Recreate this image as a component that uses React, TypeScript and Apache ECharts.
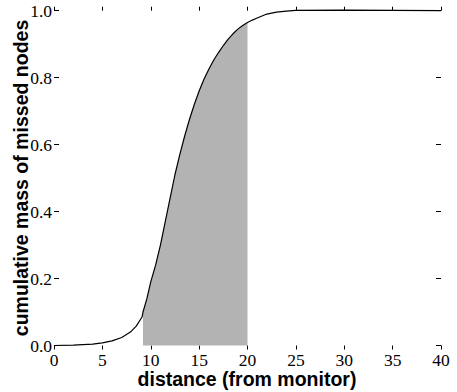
import React, { useEffect, useRef } from "react";
import * as echarts from "echarts";

const distance = [0, 2, 4, 5, 6, 7, 7.9, 8.5, 9.1, 9.2, 9.6, 10, 10.5, 11, 11.5, 12, 12.5, 13, 13.5, 14, 14.5, 15, 15.5, 16, 16.5, 17, 17.5, 18, 18.5, 19, 19.5, 20, 20.5, 21, 21.5, 22, 23, 24, 25, 30, 35, 40];
const mass = [0.0, 0.001, 0.004, 0.008, 0.014, 0.024, 0.04, 0.058, 0.085, 0.1, 0.14, 0.19, 0.24, 0.3, 0.37, 0.44, 0.51, 0.57, 0.625, 0.675, 0.72, 0.76, 0.795, 0.825, 0.852, 0.875, 0.896, 0.915, 0.931, 0.945, 0.956, 0.965, 0.972, 0.978, 0.984, 0.99, 0.996, 0.999, 1.001, 1.002, 1.001, 1.0];
const shadeStart = 9.2;
const shadeEnd = 20;
const xTitle = "distance (from monitor)";
const yTitle = "cumulative mass of missed nodes";

export default function App() {
  const ref = useRef<HTMLDivElement>(null);
  useEffect(() => {
    if (!ref.current) return;
    const chart = echarts.init(ref.current, null, { renderer: "svg" });
    const curve = distance.map((d, i) => [d, mass[i]]);
    const shade = curve.filter(([d]) => d >= shadeStart && d <= shadeEnd);
    const serif = "Liberation Serif";
    const sans = "Liberation Sans";
    const tickStyle = { color: "#000", width: 1 };
    const noLine = { show: false, onZero: false };
    chart.setOption({
      animation: false,
      grid: { left: 54, right: 16, top: 10.7, bottom: 46.5, containLabel: false },
      xAxis: [
        {
          type: "value",
          min: 0,
          max: 40,
          interval: 5,
          position: "bottom",
          axisLine: noLine,
          splitLine: { show: false },
          axisTick: { show: true, inside: false, length: 4, lineStyle: tickStyle },
          axisLabel: { show: true, margin: 8, color: "#000", fontFamily: serif, fontSize: 17.5, lineHeight: 12 },
        },
        {
          type: "value",
          min: 0,
          max: 40,
          interval: 5,
          position: "top",
          axisLine: noLine,
          splitLine: { show: false },
          axisTick: { show: true, inside: false, length: 4, lineStyle: tickStyle },
          axisLabel: { show: false },
        },
      ],
      yAxis: [
        {
          type: "value",
          min: 0,
          max: 1,
          interval: 0.2,
          position: "left",
          axisLine: noLine,
          splitLine: { show: false },
          axisTick: { show: true, inside: true, length: 5, lineStyle: tickStyle },
          axisLabel: {
            show: true,
            margin: 2,
            color: "#000",
            fontFamily: serif,
            fontSize: 17.5,
            lineHeight: 11,
            formatter: (v: number) => v.toFixed(1),
          },
        },
        {
          type: "value",
          min: 0,
          max: 1,
          interval: 0.2,
          position: "right",
          axisLine: noLine,
          splitLine: { show: false },
          axisTick: { show: true, inside: true, length: 5, lineStyle: tickStyle },
          axisLabel: { show: false },
        },
      ],
      series: [
        {
          type: "line",
          xAxisIndex: 0,
          yAxisIndex: 0,
          data: shade,
          symbol: "none",
          smooth: false,
          lineStyle: { width: 0, opacity: 0 },
          areaStyle: { color: "#b3b3b3", opacity: 1, origin: "start" },
          clip: false,
          z: 1,
        },
        {
          type: "line",
          xAxisIndex: 1,
          yAxisIndex: 1,
          data: curve,
          symbol: "none",
          smooth: false,
          lineStyle: { color: "#000", width: 1.2 },
          clip: false,
          z: 2,
        },
      ],
      graphic: [
        {
          type: "text",
          x: 247,
          y: 379,
          style: {
            text: xTitle,
            font: `bold 19.5px "${sans}"`,
            lineHeight: 15,
            fill: "#000",
            align: "center",
            verticalAlign: "middle",
            textAlign: "center",
            textVerticalAlign: "middle",
          },
        },
        {
          type: "text",
          x: 21,
          y: 178,
          rotation: Math.PI / 2,
          style: {
            text: yTitle,
            font: `bold 19.5px "${sans}"`,
            fill: "#000",
            align: "center",
            verticalAlign: "middle",
            textAlign: "center",
            textVerticalAlign: "middle",
          },
        },
      ],
    });
    return () => chart.dispose();
  }, []);
  return (
    <div
      ref={ref}
      style={{ position: "fixed", left: 0, top: 0, width: 457, height: 392, background: "#fff" }}
    />
  );
}
